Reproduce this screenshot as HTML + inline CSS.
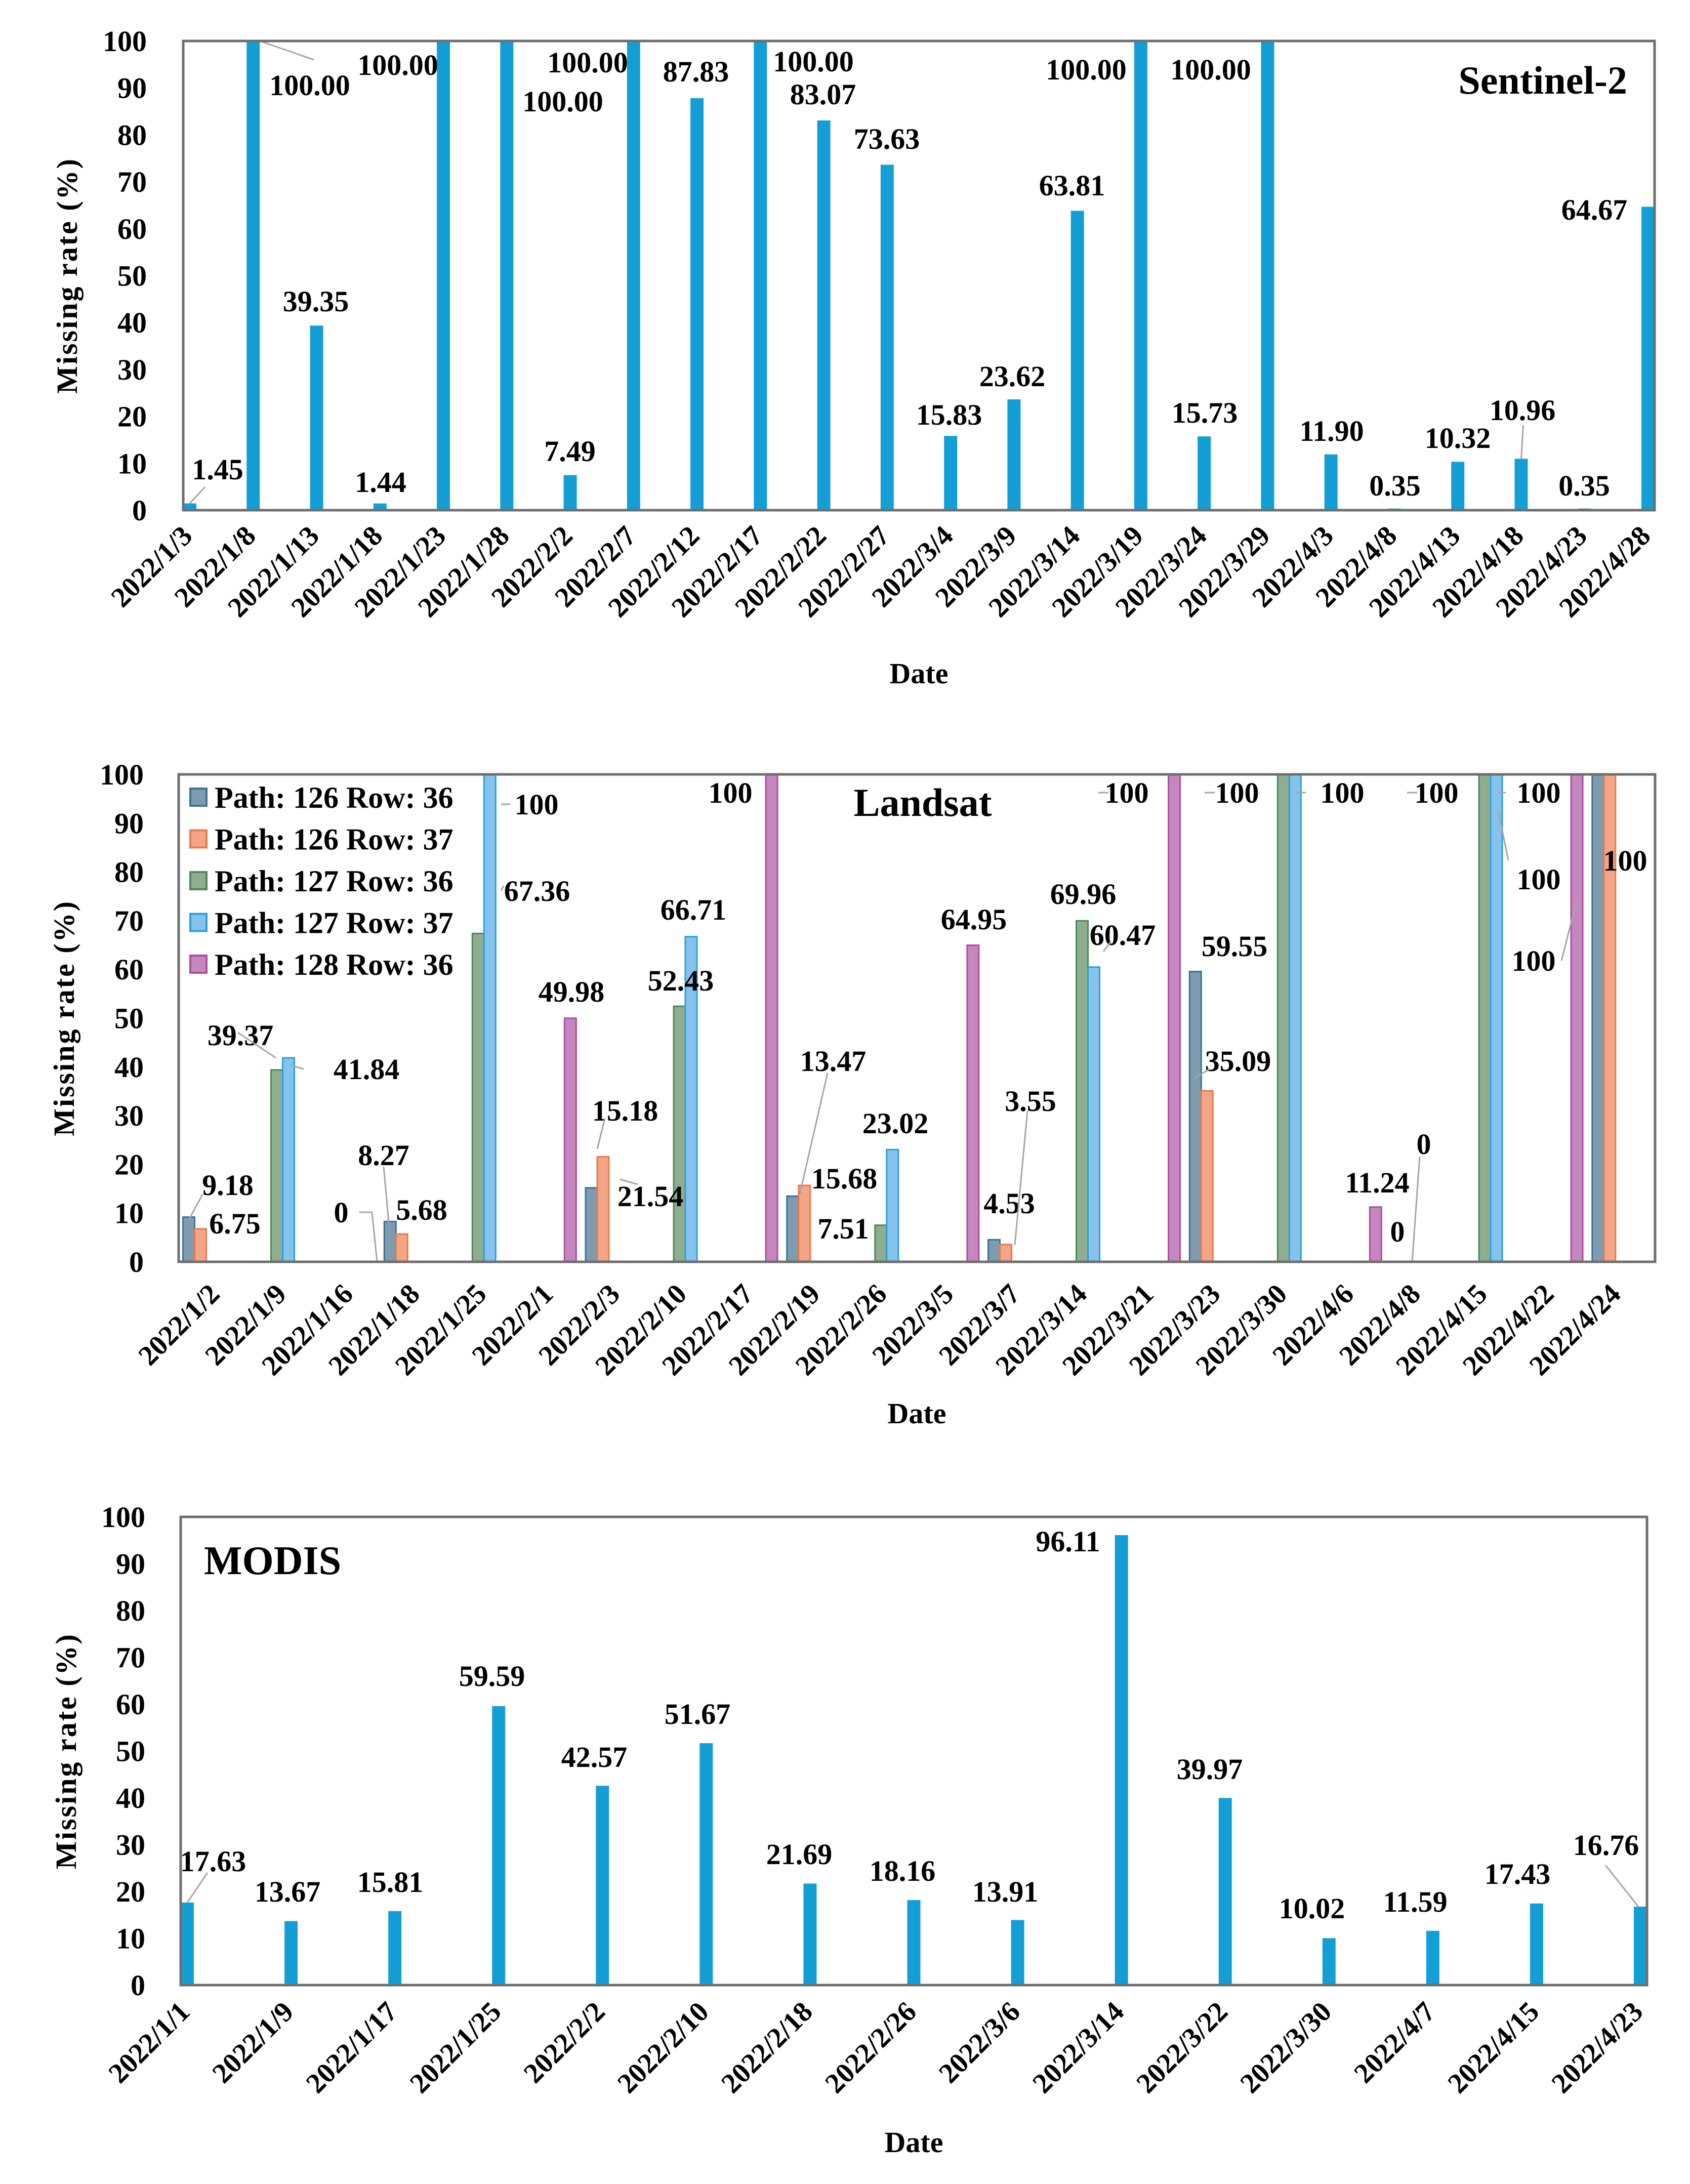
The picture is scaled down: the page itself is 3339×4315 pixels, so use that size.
<!DOCTYPE html>
<html><head><meta charset="utf-8"><style>
html,body{margin:0;padding:0;background:#fff;}
svg{display:block;}
text{font-family:"Liberation Serif",serif;font-weight:bold;fill:#000;}
</style></head><body>
<svg id="fig" xmlns="http://www.w3.org/2000/svg" width="3339" height="4315" viewBox="0 0 3339 4315"></svg>
<script>
// ---------- Sentinel-2 data ----------
const s2Dates = ["2022/1/3","2022/1/8","2022/1/13","2022/1/18","2022/1/23","2022/1/28","2022/2/2","2022/2/7","2022/2/12","2022/2/17","2022/2/22","2022/2/27","2022/3/4","2022/3/9","2022/3/14","2022/3/19","2022/3/24","2022/3/29","2022/4/3","2022/4/8","2022/4/13","2022/4/18","2022/4/23","2022/4/28"];
const s2Values = [1.45,100,39.35,1.44,100,100,7.49,100,87.83,100,83.07,73.63,15.83,23.62,63.81,100,15.73,100,11.90,0.35,10.32,10.96,0.35,64.67];
const s2Labels = ["1.45","100.00","39.35","1.44","100.00","100.00","7.49","100.00","87.83","100.00","83.07","73.63","15.83","23.62","63.81","100.00","15.73","100.00","11.90","0.35","10.32","10.96","0.35","64.67"];
// ---------- Landsat data (day offsets from 2022/1/2) ----------
const lsTickLabels = ["2022/1/2","2022/1/9","2022/1/16","2022/1/18","2022/1/25","2022/2/1","2022/2/3","2022/2/10","2022/2/17","2022/2/19","2022/2/26","2022/3/5","2022/3/7","2022/3/14","2022/3/21","2022/3/23","2022/3/30","2022/4/6","2022/4/8","2022/4/15","2022/4/22","2022/4/24"];
const lsDays126 = [0,16,32,48,64,80,112];
const ls126r36 = [9.18,8.27,15.18,13.47,4.53,59.55,100];
const ls126r37 = [6.75,5.68,21.54,15.68,3.55,35.09,100];
const lsDays127 = [7,14,23,39,55,71,87,103];
const ls127r36 = [39.37,0,67.36,52.43,7.51,69.96,100,100];
const ls127r37 = [41.84,0,100,66.71,23.02,60.47,100,100];
const lsDays128 = [30,46,62,78,94,96,110];
const ls128r36 = [49.98,100,64.95,100,11.24,0,100];
const lsSeriesNames = ["Path: 126 Row: 36","Path: 126 Row: 37","Path: 127 Row: 36","Path: 127 Row: 37","Path: 128 Row: 36"];
// ---------- MODIS data ----------
const mdDates = ["2022/1/1","2022/1/9","2022/1/17","2022/1/25","2022/2/2","2022/2/10","2022/2/18","2022/2/26","2022/3/6","2022/3/14","2022/3/22","2022/3/30","2022/4/7","2022/4/15","2022/4/23"];
const mdValues = [17.63,13.67,15.81,59.59,42.57,51.67,21.69,18.16,13.91,96.11,39.97,10.02,11.59,17.43,16.76];
const yTicks = [0,10,20,30,40,50,60,70,80,90,100];

const NS="http://www.w3.org/2000/svg";
const svg=document.getElementById('fig');
function el(tag,attrs,parent,txt){const e=document.createElementNS(NS,tag);for(const k in attrs)e.setAttribute(k,attrs[k]);if(txt!==undefined)e.textContent=txt;(parent||svg).appendChild(e);return e;}

function axes(g,L,R,T,B,tickRight,titleX,xTitleY){
  const ys=v=>B-(B-T)*v/100;
  yTicks.forEach(t=>{const tx=el('text',{x:tickRight,y:ys(t)+20,'text-anchor':'end','font-size':58},g,String(t));
    
    });
  const yt=el('text',{x:titleX,y:(T+B)/2,'text-anchor':'middle','font-size':58,transform:`rotate(-90 ${titleX} ${(T+B)/2})`,'letter-spacing':'3'},g,'Missing rate (%)');
  
  
  const xt=el('text',{x:(L+R)/2,y:xTitleY,'text-anchor':'middle','font-size':58},g,'Date');
  
  
  return ys;
}
function frame(g,L,R,T,B){
  const f=el('rect',{x:L,y:T,width:R-L,height:B-T,fill:'none',stroke:'#6e6e6e','stroke-width':5},g);
  
  
}
function xlabel(g,x,y,t){
  const tx=el('text',{x:x,y:y,'text-anchor':'end','font-size':56,transform:`rotate(-45 ${x} ${y})`},g,t);
  
  
}
function vlabel(g,x,y,t){
  const tx=el('text',{x:x,y:y+20,'text-anchor':'middle','font-size':58},g,t);
  
  
}
function leader(g,x1,y1,x2,y2){
  const l=el('line',{x1,y1,x2,y2,stroke:'#a6a6a6','stroke-width':3},g);
  
  
}

// ================= Sentinel-2 =================
(function(){
  const g=el('g',{});
  
  
  const L=362,R=3269,T=81,B=1008;
  const ys=axes(g,L,R,T,B,290,152,1350);
  const xs=i=>375+i*(3256-375)/(s2Dates.length-1);
  s2Values.forEach((v,i)=>{
    const r=el('rect',{x:xs(i)-13,y:ys(v),width:26,height:B-ys(v),fill:'#139fd6'},g);
    
    
  });
  const lp=[[430,927],[612,168],[786,128],[1112,200],[1161,123],[1375,141],[1607,121],[1626,186],[1752,274],[2118,366],[2146,137],[2392,137],[3150,414],[624,595],[752,952],[1126,891],[1875,819],[2000,743],[2380,815],[2631,851],[2756,959],[2880,865],[3008,810],[3130,959]];
  const idx=[0,1,4,5,7,8,9,10,11,14,15,17,23,2,3,6,12,13,16,18,19,20,21,22];
  idx.forEach((k,j)=>vlabel(g,lp[j][0],lp[j][1],s2Labels[k]));
  leader(g,xs(0),ys(s2Values[0]),405,962);
  leader(g,xs(1)+13,T,620,118);
  leader(g,xs(21),ys(s2Values[21]),xs(21)+4,840);
  frame(g,L,R,T,B);
  s2Dates.forEach((d,i)=>xlabel(g,xs(i)+8,1062,d));
  const t=el('text',{x:3215,y:185,'text-anchor':'end','font-size':78},g,'Sentinel-2');
  
  
})();

// ================= Landsat =================
(function(){
  const g=el('g',{});
  
  
  const L=353,R=3270,T=1530,B=2493;
  const ys=axes(g,L,R,T,B,284,146,2812);
  const xd=d=>373+d*24.86;
  const W=23;
  function bars(days,vals,off,fill,stroke,nm){
    vals.forEach((v,i)=>{
      const x=xd(days[i])+off-W/2;
      const r=el('rect',{x:x,y:ys(v),width:W,height:B-ys(v),fill:fill,stroke:stroke,'stroke-width':3},g);
      
      
    });
  }
  bars(lsDays126,ls126r36,0,'#7f9bb0','#3d7393','p126-r36');
  bars(lsDays126,ls126r37,23,'#f4a487','#ea7a48','p126-r37');
  bars(lsDays127,ls127r36,0,'#8fae8f','#4d8a58','p127-r36');
  bars(lsDays127,ls127r37,23,'#86c3ec','#2aa0dc','p127-r37');
  bars(lsDays128,ls128r36,8,'#c687bf','#aa4fa2','p128-r36');
  const labs=[["100",1060,1589],["100",1443,1566],["100",2226,1566],["100",2444,1566],["100",2652,1566],["100",2838,1566],["100",3040,1566],["100",3040,1737],["100",3030,1898],["100",3211,1700],
    ["67.36",1061,1760],["66.71",1370,1797],["64.95",1924,1816],["69.96",2140,1766],["60.47",2218,1847],["59.55",2439,1869],["49.98",1129,1959],["52.43",1345,1937],
    ["39.37",475,2045],["41.84",724,2112],["13.47",1646,2096],["35.09",2446,2096],["15.18",1235,2194],["3.55",2036,2175],["23.02",1769,2219],["8.27",758,2282],["0",2813,2260],
    ["9.18",450,2341],["15.68",1668,2328],["11.24",2721,2336],["0",674,2395],["5.68",833,2390],["21.54",1285,2363],["4.53",1994,2377],["6.75",464,2417],["7.51",1666,2427],["0",2761,2433]];
  labs.forEach(a=>vlabel(g,a[1],a[2],a[0]));
  leader(g,990,1589,1008,1589);leader(g,2190,1566,2170,1566);leader(g,2400,1566,2380,1566);
  leader(g,2580,1566,2560,1566);leader(g,2800,1566,2780,1566);
  leader(g,2960,1566,2975,1566);leader(g,2980,1700,2960,1600);leader(g,3085,1898,3115,1780);
  leader(g,470,2040,545,2090);leader(g,600,2112,575,2105);leader(g,1195,2210,1180,2270);leader(g,1260,2340,1225,2330);
  leader(g,1635,2120,1580,2360);leader(g,2030,2195,2005,2460);leader(g,2390,2112,2360,2130);
  leader(g,400,2360,373,2410);leader(g,758,2305,768,2415);leader(g,710,2395,735,2395);leader(g,735,2395,745,2493);
  leader(g,2805,2285,2790,2493);leader(g,2195,1860,2180,1880);leader(g,990,1760,995,1750);
  frame(g,L,R,T,B);
  const step=(3205-437)/(lsTickLabels.length-1);
  lsTickLabels.forEach((d,i)=>xlabel(g,437+i*step,2560,d));
  const t=el('text',{x:1823,y:1612,'text-anchor':'middle','font-size':78},g,'Landsat');
  
  
  // legend
  const lg=el('g',{},g);
  
  
  const lf=[['#7f9bb0','#3d7393'],['#f4a487','#ea7a48'],['#8fae8f','#4d8a58'],['#86c3ec','#2aa0dc'],['#c687bf','#aa4fa2']];
  lsSeriesNames.forEach((n,i)=>{
    const cy=1575+i*82.5;
    const sw=el('rect',{x:376,y:cy-17,width:32,height:34,fill:lf[i][0],stroke:lf[i][1],'stroke-width':4},lg);
    
    
    const tx=el('text',{x:424,y:cy+21,'font-size':60},lg,n);
    
    
  });
})();

// ================= MODIS =================
(function(){
  const g=el('g',{});
  
  
  const L=357,R=3254,T=2997,B=3922;
  const ys=axes(g,L,R,T,B,287,150,4252);
  const xs=i=>370+i*(3241-370)/(mdDates.length-1);
  mdValues.forEach((v,i)=>{
    const r=el('rect',{x:xs(i)-13,y:ys(v),width:26,height:B-ys(v),fill:'#139fd6'},g);
    
    
  });
  const lp=[[421,3677],[568,3737],[771,3718],[972,3311],[1174,3471],[1378,3386],[1579,3663],[1783,3696],[1986,3737],[2110,3045],[2390,3495],[2592,3770],[2796,3757],[2998,3702],[3173,3645]];
  mdValues.forEach((v,i)=>vlabel(g,lp[i][0],lp[i][1],v.toFixed(2)));
  leader(g,xs(0),ys(mdValues[0]),410,3700);
  leader(g,xs(14)-4,ys(mdValues[14]),3172,3685);
  frame(g,L,R,T,B);
  mdDates.forEach((d,i)=>xlabel(g,xs(i)+8,3978,d));
  const t=el('text',{x:403,y:3110,'font-size':80},g,'MODIS');
  
  
})();
</script>
</body></html>
